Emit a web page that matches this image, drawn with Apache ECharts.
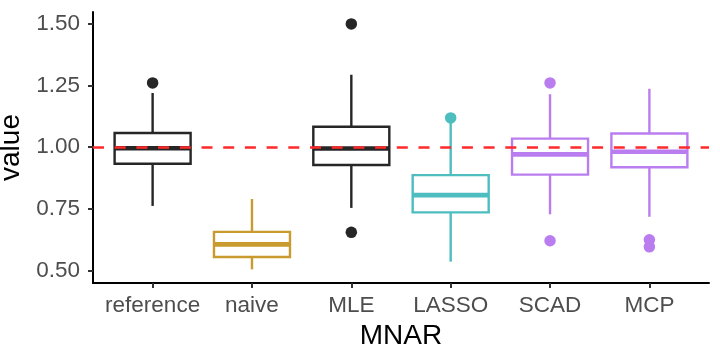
<!DOCTYPE html>
<html><head><meta charset="utf-8">
<script src="https://cdn.jsdelivr.net/npm/echarts@6/dist/echarts.min.js"></script>
<style>html,body{margin:0;padding:0;background:#fff}#c{width:720px;height:359px}</style>
</head><body><div id="c"></div>
<script>
const categories = ['reference', 'naive', 'MLE', 'LASSO', 'SCAD', 'MCP'];
const lowerWhisker = [0.761, 0.504, 0.753, 0.535, 0.727, 0.717];
const q1 = [0.932, 0.554, 0.927, 0.735, 0.888, 0.918];
const median = [0.995, 0.605, 0.994, 0.805, 0.970, 0.981];
const q3 = [1.057, 0.656, 1.082, 0.886, 1.034, 1.055];
const upperWhisker = [1.219, 0.789, 1.293, 1.100, 1.214, 1.236];
const outlierCategory = ['reference', 'MLE', 'MLE', 'LASSO', 'SCAD', 'SCAD', 'MCP', 'MCP'];
const outlierValue = [1.260, 1.499, 0.654, 1.118, 1.260, 0.620, 0.624, 0.595];
const yTicks = [0.50, 0.75, 1.00, 1.25, 1.50];
const referenceLine = 1.0;
const xName = 'MNAR';
const yName = 'value';

const colors = ['#262626', '#C99A2E', '#262626', '#4DBDC0', '#BA7DF0', '#BA7DF0'];
const FONT = '"Liberation Sans", Arial, Helvetica, sans-serif';
const xPositions = categories.map((c, i) => i + 1);

const boxData = categories.map((c, i) => [xPositions[i], lowerWhisker[i], q1[i], median[i], q3[i], upperWhisker[i]]);
const outlierData = outlierCategory.map((c, i) => [categories.indexOf(c) + 1, outlierValue[i]]);

const chart = echarts.init(document.getElementById('c'), null, {renderer: 'canvas'});
chart.setOption({
  animation: false,
  backgroundColor: '#fff',
  grid: {left: 93, right: 11, top: 12, bottom: 76, containLabel: false, outerBoundsMode: 'none'},
  xAxis: {
    type: 'value', min: 0.4, max: 6.6,
    name: xName, nameLocation: 'middle', nameGap: 39,
    nameTextStyle: {fontSize: 28, color: '#000', fontFamily: FONT},
    axisLine: {show: true, onZero: false, lineStyle: {color: '#000', width: 2}},
    axisTick: {show: true, length: 5, customValues: xPositions, lineStyle: {color: '#333', width: 2}},
    axisLabel: {customValues: xPositions, formatter: v => categories[Math.round(v) - 1], color: '#4D4D4D', fontSize: 22.5, fontFamily: FONT, margin: 11},
    splitLine: {show: false}
  },
  yAxis: {
    type: 'value', min: 0.4485, max: 1.5474,
    name: yName, nameLocation: 'middle', nameGap: 66,
    nameTextStyle: {fontSize: 28, color: '#000', fontFamily: FONT},
    axisLine: {show: true, onZero: false, lineStyle: {color: '#000', width: 2}},
    axisTick: {show: true, length: 5, customValues: yTicks, lineStyle: {color: '#333', width: 2}},
    axisLabel: {customValues: yTicks, formatter: v => v.toFixed(2), color: '#4D4D4D', fontSize: 22.5, fontFamily: FONT, margin: 13},
    splitLine: {show: false}
  },
  series: [
    {
      type: 'custom', z: 2,
      encode: {x: 0, y: [1, 2, 3, 4, 5]},
      data: boxData,
      renderItem: function (params, api) {
        const x = api.value(0);
        const c = colors[Math.round(x) - 1];
        const pLo = api.coord([x, api.value(1)]);
        const pQ1 = api.coord([x, api.value(2)]);
        const pMed = api.coord([x, api.value(3)]);
        const pQ3 = api.coord([x, api.value(4)]);
        const pHi = api.coord([x, api.value(5)]);
        const hw = api.size([1, 0])[0] * 0.765 / 2;
        return {type: 'group', children: [
          {type: 'line', shape: {x1: pHi[0], y1: pHi[1], x2: pQ3[0], y2: pQ3[1]}, style: {stroke: c, lineWidth: 2.4}},
          {type: 'line', shape: {x1: pQ1[0], y1: pQ1[1], x2: pLo[0], y2: pLo[1]}, style: {stroke: c, lineWidth: 2.4}},
          {type: 'rect', shape: {x: pQ3[0] - hw, y: pQ3[1], width: 2 * hw, height: pQ1[1] - pQ3[1]}, style: {fill: '#fff', stroke: c, lineWidth: 2.4}},
          {type: 'line', shape: {x1: pMed[0] - hw, y1: pMed[1], x2: pMed[0] + hw, y2: pMed[1]}, style: {stroke: c, lineWidth: 4.6}}
        ]};
      }
    },
    {
      type: 'scatter', z: 5,
      data: outlierData,
      symbolSize: 11.5,
      itemStyle: {color: p => colors[p.data[0] - 1], opacity: 1},
      markLine: {
        silent: true, symbol: 'none', z: 10,
        label: {show: false},
        lineStyle: {color: '#FF2A2A', type: [11, 10.7], width: 2.6},
        data: [{yAxis: referenceLine}]
      }
    }
  ]
});
</script></body></html>
